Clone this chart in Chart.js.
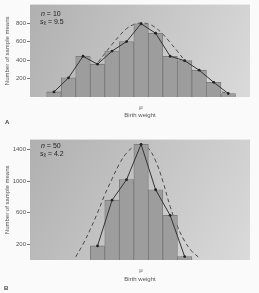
<!DOCTYPE html>
<html>
<head>
<meta charset="utf-8">
<script src="https://cdn.jsdelivr.net/npm/chart.js@4/dist/chart.umd.min.js"></script>
<style>
  body { margin: 0; background: #fafafa; font-family: "Liberation Sans", Arial, sans-serif; }
  #wrap { position: relative; width: 259px; height: 293px; overflow: hidden; }
  canvas { position: absolute; left: 0; }
  .note { position: absolute; font-size: 7px; color: #222; line-height: 8px; white-space: nowrap; }
  .panel { position: absolute; font-size: 6px; font-weight: bold; color: #444; }
  sub { font-size: 5px; vertical-align: -1px; }
</style>
</head>
<body>
<div id="wrap">
  <canvas id="chartA" width="259" height="121" style="top:0"></canvas>
  <canvas id="chartB" width="259" height="150" style="top:135px"></canvas>
  <div class="note" style="left:41px;top:10px"><i>n</i> = 10</div>
  <div class="note" style="left:40px;top:18px"><i>s</i><sub>x̄</sub> = 9.5</div>
  <div class="note" style="left:41px;top:142px"><i>n</i> = 50</div>
  <div class="note" style="left:40px;top:150px"><i>s</i><sub>x̄</sub> = 4.2</div>
  <div class="panel" style="left:5px;top:119px">A</div>
  <div class="panel" style="left:4px;top:285px">B</div>
</div>
<script>
// panel A: n = 10
const binsA = [1, 2, 3, 4, 5, 6, 7, 8, 9, 10, 11, 12, 13];
const countsA = [55, 207, 441, 355, 497, 600, 793, 690, 441, 393, 290, 159, 38];
const curveXA = [1, 1.5, 2, 2.5, 3, 3.5, 4, 4.5, 5, 5.5, 6, 6.5, 7, 7.5, 8, 8.5, 9, 9.5, 10, 10.5, 11, 11.5, 12, 12.5, 13];
const curveYA = [30, 55, 90, 140, 200, 275, 370, 470, 570, 660, 740, 785, 800, 790, 750, 680, 590, 495, 395, 300, 220, 155, 100, 60, 35];
const ticksA = [200, 400, 600, 800];

// panel B: n = 50
const binsB = [4, 5, 6, 7, 8, 9, 10];
const countsB = [179, 760, 1021, 1470, 893, 568, 44];
const curveXB = [2.5, 3, 3.5, 4, 4.5, 5, 5.5, 6, 6.5, 7, 7.5, 8, 8.5, 9, 9.5, 10, 10.5, 11];
const curveYB = [40, 200, 390, 600, 830, 1030, 1220, 1360, 1440, 1470, 1420, 1260, 1000, 680, 430, 240, 110, 30];
const ticksB = [200, 600, 1000, 1400];

const centerLabel = "μ";
const textColor = "#555";

const plotBackground = {
  id: "plotBackground",
  beforeDraw(chart) {
    const { ctx, chartArea: a } = chart;
    const g = ctx.createLinearGradient(a.left, a.top, a.right, a.bottom);
    g.addColorStop(0, "#b0b0b0");
    g.addColorStop(1, "#dadada");
    ctx.save();
    ctx.fillStyle = g;
    ctx.fillRect(a.left, a.top, a.right - a.left, a.bottom - a.top);
    ctx.restore();
  },
};

function makeChart(id, bins, counts, curveX, curveY, yTicks, yMax, xPad) {
  const toPts = (xs, ys) => xs.map((x, i) => ({ x, y: ys[i] }));
  return new Chart(document.getElementById(id), {
    type: "bar",
    data: {
      datasets: [
        {
          type: "line",
          data: toPts(bins, counts),
          borderColor: "#333",
          borderWidth: 1,
          pointRadius: 1.4,
          pointBackgroundColor: "#222",
          pointBorderWidth: 0,
          order: 0,
        },
        {
          data: toPts(bins, counts),
          backgroundColor: "#9d9d9d",
          borderColor: "#777",
          borderWidth: 0.8,
          barPercentage: 1,
          categoryPercentage: 1,
          order: 1,
        },
        {
          type: "line",
          data: toPts(curveX, curveY),
          borderColor: "#4a4a4a",
          borderWidth: 1,
          borderDash: [4, 3],
          pointRadius: 0,
          tension: 0.4,
          order: 2,
        },
      ],
    },
    options: {
      responsive: false,
      animation: false,
      layout: { padding: { top: 2, right: 9, left: 4, bottom: 0 } },
      plugins: { legend: { display: false }, tooltip: { enabled: false } },
      scales: {
        x: {
          type: "linear",
          min: -0.65,
          max: 14.5,
          offset: false,
          grid: { display: false, drawTicks: false },
          border: { display: false },
          afterBuildTicks: (s) => { s.ticks = [{ value: 7 }]; },
          afterFit: (s) => { s.height = xPad.height; },
          ticks: {
            padding: xPad.tick,
            color: textColor,
            font: { size: 6 },
            callback: () => centerLabel,
          },
          title: {
            display: true,
            text: "Birth weight",
            color: textColor,
            font: { size: 6 },
            padding: { top: 0, bottom: xPad.title },
          },
        },
        y: {
          min: 0,
          max: yMax,
          afterBuildTicks: (s) => { s.ticks = yTicks.map((v) => ({ value: v })); },
          afterFit: (s) => { s.width = 26; },
          grid: { drawOnChartArea: false, tickLength: 3, color: "#777" },
          border: { display: false },
          ticks: { color: textColor, font: { size: 6 }, padding: 1, callback: (v) => String(v) },
          title: {
            display: true,
            text: "Number of sample means",
            color: textColor,
            font: { size: 6 },
            padding: 0,
          },
        },
      },
    },
    plugins: [plotBackground],
  });
}

makeChart("chartA", binsA, countsA, curveXA, curveYA, ticksA, 1000, { height: 24, tick: 7, title: 2 });
makeChart("chartB", binsB, countsB, curveXB, curveYB, ticksB, 1530, { height: 25, tick: 7, title: 2 });
</script>
</body>
</html>
